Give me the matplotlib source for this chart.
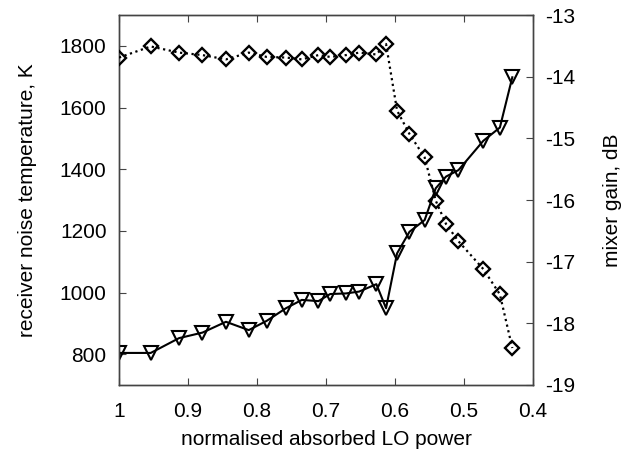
import matplotlib
matplotlib.use("Agg")
import matplotlib.pyplot as plt
from matplotlib.ticker import FormatStrFormatter

plt.rcParams['font.family'] = ['Liberation Sans', 'DejaVu Sans']
plt.rcParams['axes.unicode_minus'] = False

# absorbed LO power (normalised)
lo_power = [1.0, 0.954, 0.913, 0.879, 0.845, 0.812, 0.786, 0.758, 0.735, 0.711,
            0.694, 0.671, 0.652, 0.627, 0.613, 0.597, 0.579, 0.557, 0.541, 0.526,
            0.508, 0.472, 0.448, 0.430]
# receiver noise temperature, K
noise_temp = [804, 804, 852, 870, 905, 878, 908, 949, 976, 972,
              995, 997, 1003, 1027, 949, 1127, 1197, 1235, 1338, 1376,
              1397, 1492, 1535, 1698]
# mixer gain, dB
mixer_gain = [-13.69, -13.51, -13.61, -13.65, -13.72, -13.61, -13.68, -13.69, -13.72, -13.65,
              -13.68, -13.65, -13.61, -13.64, -13.47, -14.55, -14.93, -15.31, -16.01, -16.39,
              -16.67, -17.12, -17.53, -18.40]

fig = plt.figure(figsize=(6.21, 4.57), dpi=100)
ax = fig.add_axes([119/621, 1-385/457, (533-119)/621, (385-15)/457])
ax2 = ax.twinx()

ax.plot(lo_power, noise_temp, color='black', lw=1.5, marker='v', ms=9.5,
        mfc='none', mec='black', mew=1.5, zorder=3)
ax2.plot(lo_power, mixer_gain, color='black', lw=1.6, ls=(0, (1, 1.6)), marker='D', ms=7,
         mfc='none', mec='black', mew=1.7, zorder=3)

ax.set_xlim(1.0, 0.4)
ax.set_ylim(700, 1900)
ax2.set_ylim(-19, -13)
ax.set_xticks([1.0, 0.9, 0.8, 0.7, 0.6, 0.5, 0.4])
ax.set_yticks([800, 1000, 1200, 1400, 1600, 1800])
ax2.set_yticks([-19, -18, -17, -16, -15, -14, -13])
ax.xaxis.set_major_formatter(FormatStrFormatter('%g'))

for a in (ax, ax2):
    for s in a.spines.values():
        s.set_color('#444444')
        s.set_linewidth(1.0)
ax.tick_params(axis='x', direction='in', length=5, top=True, labelsize=15, pad=12, color='#444444')
ax.tick_params(axis='y', direction='in', length=5, labelsize=15, pad=9, color='#444444')
ax2.tick_params(axis='y', direction='in', length=5, labelsize=15, pad=9, color='#444444')

ax.set_xlabel('normalised absorbed LO power', fontsize=15, labelpad=7)
ax.set_ylabel('receiver noise temperature, K', fontsize=15, labelpad=16)
ax2.set_ylabel('mixer gain, dB', fontsize=15, labelpad=20)

fig.savefig('out.png', dpi=100)
